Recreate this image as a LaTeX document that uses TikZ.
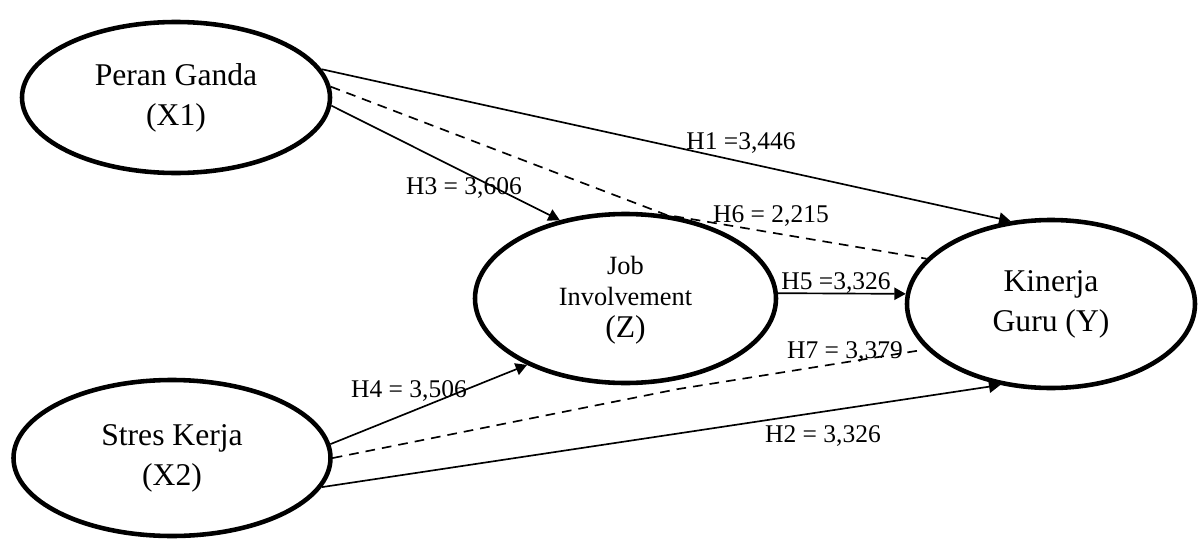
\documentclass[tikz,border=0pt]{standalone}
\usepackage{fontspec}
\setmainfont{Liberation Serif}
\usetikzlibrary{shapes.geometric,arrows.meta}

\begin{document}
\begin{tikzpicture}[
  var/.style={draw, ellipse, line width=2.6pt, inner sep=0pt, align=center,
    font=\fontsize{18}{22.8}\selectfont},
  link/.style={line width=0.95pt, -{Triangle[length=6.5pt,width=7pt]}},
  indirect/.style={line width=0.95pt, dash pattern=on 5.5pt off 4pt},
  lbl/.style={inner sep=0pt, font=\fontsize{14.5}{17}\selectfont}]
\useasboundingbox (0,0) rectangle (23.98,-10.82);
% latent variables
\node[var, minimum width=6.16cm, minimum height=3.02cm] (X1) at (3.52,-1.95)
  {Peran Ganda\\(X1)};
\node[var, minimum width=6.34cm, minimum height=3.12cm] (X2) at (3.44,-9.16)
  {Stres Kerja\\(X2)};
\node[var, minimum width=6.02cm, minimum height=3.38cm,
  font=\fontsize{15}{17.5}\selectfont] (Z) at (12.51,-5.97)
  {\strut Job\\Involvement\\[1pt]{\fontsize{18}{19}\selectfont (Z)}};
\node[var, minimum width=5.76cm, minimum height=3.36cm] (Y) at (21.02,-6.08)
  {Kinerja\\Guru (Y)};
% direct paths
\draw[link] (X1.11) -- (Y.116);
\draw[link] (X1.-3) -- (Z.130);
\draw[link] (X2.5) -- (Z.214);
\draw[link] (Z.2) -- (Y.176);
\draw[link] (X2.-11) -- (Y.238);
% indirect paths
\coordinate (k7) at ([yshift=-1.8mm]Z.-58);
\draw[indirect] (X1.4) -- (Z.64) -- (Y.160);
\draw[indirect, shorten >=4pt] (X2.0) -- (k7) -- (Y.200);
% path labels
\node[lbl] (h1) at (14.82,-2.86) {H1 =3,446};
\node[lbl] (h3) at (9.28,-3.76) {H3 = 3,606};
\node[lbl] (h6) at (15.42,-4.32) {H6 = 2,215};
\node[lbl] (h5) at (16.72,-5.66) {H5 =3,326};
\node[lbl] (h7) at (16.9,-7.04) {H7 = 3,379};
\node[lbl] (h4) at (8.18,-7.82) {H4 = 3,506};
\node[lbl] (h2) at (16.46,-8.72) {H2 = 3,326};
\end{tikzpicture}
\end{document}
